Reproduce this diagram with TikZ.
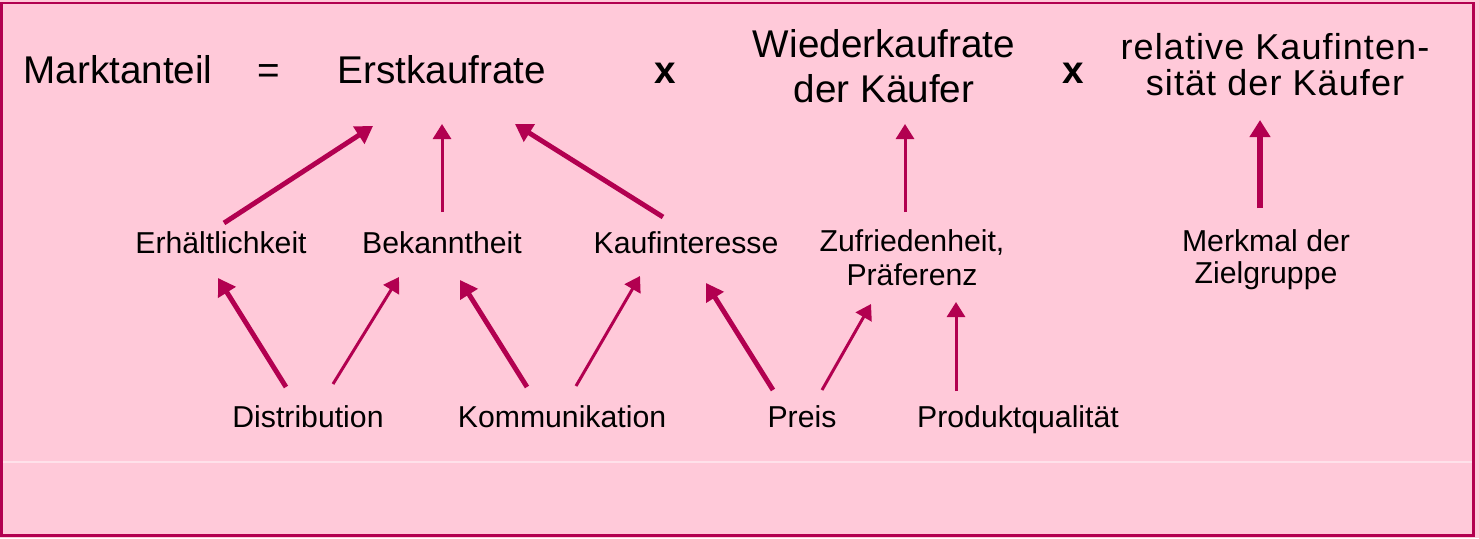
\documentclass[tikz,border=0pt]{standalone}
\usepackage{fontspec}
\setmainfont{Liberation Sans}
\newfontfamily\widesans[LetterSpace=3]{Liberation Sans}
\usepackage{tikz}
\usetikzlibrary{arrows.meta}
\usepackage{xcolor}
\definecolor{kbg}{RGB}{255,201,217}
\definecolor{kred}{RGB}{178,0,80}
\tikzset{
  bigtxt/.style   = {anchor=base, inner sep=0pt, align=center,
                     font=\fontsize{22}{25.5}\selectfont},
  relbig/.style   = {bigtxt, font=\widesans\fontsize{20.5}{20}\selectfont},
  smalltxt/.style = {anchor=base, inner sep=0pt, align=center,
                     font=\fontsize{17.2}{19.3}\selectfont},
  arr/.style      = {-{Triangle[length=0.3cm,width=0.36cm]},
                     line width=1.7pt, draw=kred},
  tarr/.style     = {-{Triangle[length=0.34cm,width=0.4cm]},
                     line width=2.8pt, draw=kred},
}

\begin{document}
\begin{tikzpicture}[x=0.02cm, y=-0.02cm]

%% frame
\useasboundingbox (0,0) rectangle (1479,538);
\fill[kbg] (0,0) rectangle (1479,538);
\draw[kred, line width=1.7pt] (1.5,3) rectangle (1473.5,535.5);
\draw[kbg!55!white, line width=0.6pt] (3,462) -- (1472,462);

%% formula line
\node[bigtxt] (mkt_ant) at (118,83) {Marktanteil};
\node[bigtxt] (eq_sign) at (269,83) {=};
\node[bigtxt] (erst_rate) at (442,83) {Erstkaufrate};
\node[bigtxt, font=\fontsize{22}{25.5}\selectfont\bfseries] (mul_a) at (665,83) {x};
\node[bigtxt] (wied_rate) at (884,102.7) {Wiederkaufrate\\der Käufer};
\node[bigtxt, font=\fontsize{22}{25.5}\selectfont\bfseries] (mul_b) at (1073,83) {x};
\node[relbig] (rel_int) at (1275,95) {relative Kaufinten-\\sität der Käufer};

%% drivers
\node[smalltxt] (erh_keit) at (221,253) {Erhältlichkeit};
\node[smalltxt] (bek_heit) at (442,253) {Bekanntheit};
\node[smalltxt] (kauf_int) at (686,253) {Kaufinteresse};
\node[smalltxt] (zuf_pref) at (912,285) {Zufriedenheit,\\Präferenz};
\node[smalltxt, font=\fontsize{17.2}{18}\selectfont] (merk_zg) at (1266,283) {Merkmal der\\Zielgruppe};

%% instruments
\node[smalltxt] (distrib) at (308,427) {Distribution};
\node[smalltxt] (kommun) at (562,427) {Kommunikation};
\node[smalltxt] (preis) at (802,427) {Preis};
\node[smalltxt] (prod_q) at (1018,427) {Produktqualität};

%% arrows to the formula
\draw[tarr] ([shift={(3,-30)}]erh_keit.base) -- ([shift={(-69,43)}]erst_rate.base);
\draw[arr]  ([shift={(0,-41)}]bek_heit.base) -- ([shift={(0,41)}]erst_rate.base);
\draw[tarr] ([shift={(-23,-36)}]kauf_int.base) -- ([shift={(73,41)}]erst_rate.base);
\draw[arr]  ([shift={(-7,-73)}]zuf_pref.base) -- ([shift={(21,21.3)}]wied_rate.base);
\draw[tarr, line width=3.6pt] ([shift={(-6,-75)}]merk_zg.base) -- ([shift={(-15,25)}]rel_int.base);

%% arrows from the instruments
\draw[tarr] ([shift={(-22,-40)}]distrib.base) -- ([shift={(-3,25)}]erh_keit.base);
\draw[arr]  ([shift={(25,-43)}]distrib.base) -- ([shift={(-43,24)}]bek_heit.base);
\draw[tarr] ([shift={(-35,-40)}]kommun.base) -- ([shift={(18,27)}]bek_heit.base);
\draw[arr]  ([shift={(14,-41)}]kommun.base) -- ([shift={(-46,23)}]kauf_int.base);
\draw[tarr] ([shift={(-29,-37)}]preis.base) -- ([shift={(20,30)}]kauf_int.base);
\draw[arr]  ([shift={(20,-37)}]preis.base) -- ([shift={(-41,19)}]zuf_pref.base);
\draw[arr]  ([shift={(-62,-36)}]prod_q.base) -- ([shift={(44,17)}]zuf_pref.base);

\end{tikzpicture}
\end{document}
